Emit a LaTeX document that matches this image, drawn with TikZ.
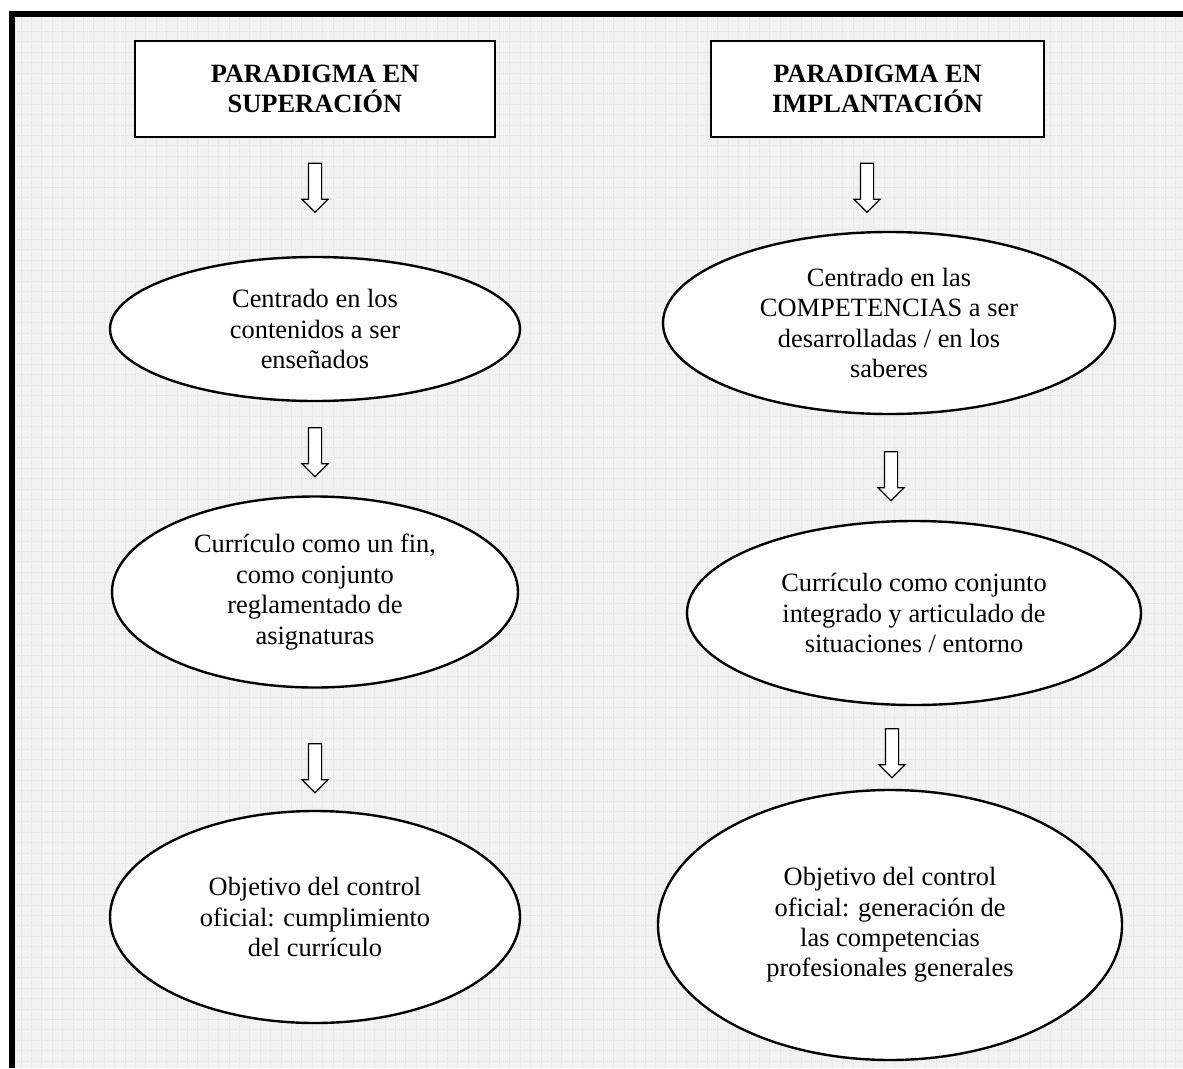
\documentclass[tikz,border=0pt]{standalone}
\usepackage{fontspec}
\setmainfont{Liberation Serif}
\usetikzlibrary{shapes.geometric,shapes.arrows}
\begin{document}
\begin{tikzpicture}[x=1pt,y=-1pt,
  bodyfont/.style={font=\fontsize{26.4}{30.4}\selectfont},
  titlebox/.style={draw=black,line width=2pt,fill=white,minimum height=96pt,
    inner sep=0pt,align=center,font=\fontsize{26.4}{30.4}\selectfont\bfseries},
  oval/.style={ellipse,draw=black,line width=2.4pt,fill=white,inner sep=0pt,
    align=center,bodyfont},
  downarrow/.style={single arrow,draw=black,line width=1.2pt,fill=white,
    shape border rotate=270,minimum height=49pt,minimum width=25pt,
    single arrow head extend=6.5pt,inner sep=6pt}]
% page and patterned panel
\useasboundingbox (0,0) rectangle (1183,1068);
\fill[white] (0,0) rectangle (1183,1068);
\fill[black!5] (15,17) rectangle (1183,1068);
\draw[black!11,line width=0.5pt,dash pattern=on 1pt off 1pt,step=10.4pt]
  (15,17) grid (1183,1068);
% thick frame on top and left
\fill[black] (9,11) rectangle (1183,17);
\fill[black] (9,11) rectangle (15,1068);

% headings
\node[titlebox,minimum width=360pt] (lhead) at (315,89) {PARADIGMA EN\\SUPERACIÓN};
\node[titlebox,minimum width=333pt] (rhead) at (877.5,89) {PARADIGMA EN\\IMPLANTACIÓN};

% left column
\node[downarrow] (la1) at (315,184.5) {};
\node[oval,minimum width=410pt,minimum height=144pt] (l1) at (315,329)
  {Centrado en los\\contenidos a ser\\enseñados};
\node[downarrow] (la2) at (315,449) {};
\node[oval,minimum width=406pt,minimum height=191pt] (l2) at (315,592)
  {Currículo como un fin,\\como conjunto\\reglamentado de\\asignaturas};
\node[downarrow] (la3) at (315,765) {};
\node[oval,minimum width=410pt,minimum height=212pt] (l3) at (315,917)
  {Objetivo del control\\oficial: cumplimiento\\del currículo};

% right column
\node[downarrow] (ra1) at (867,184.5) {};
\node[oval,minimum width=452pt,minimum height=182pt] (r1) at (889,323)
  {Centrado en las\\COMPETENCIAS a ser\\desarrolladas / en los\\saberes};
\node[downarrow] (ra2) at (891,473) {};
\node[oval,minimum width=454pt,minimum height=184pt] (r2) at (914,613)
  {Currículo como conjunto\\integrado y articulado de\\situaciones / entorno};
\node[downarrow] (ra3) at (892,750) {};
\node[oval,minimum width=464pt,minimum height=270pt] (r3) at (890,925)
  {Objetivo del control\\oficial: generación de\\las competencias\\profesionales generales};
\end{tikzpicture}
\end{document}
